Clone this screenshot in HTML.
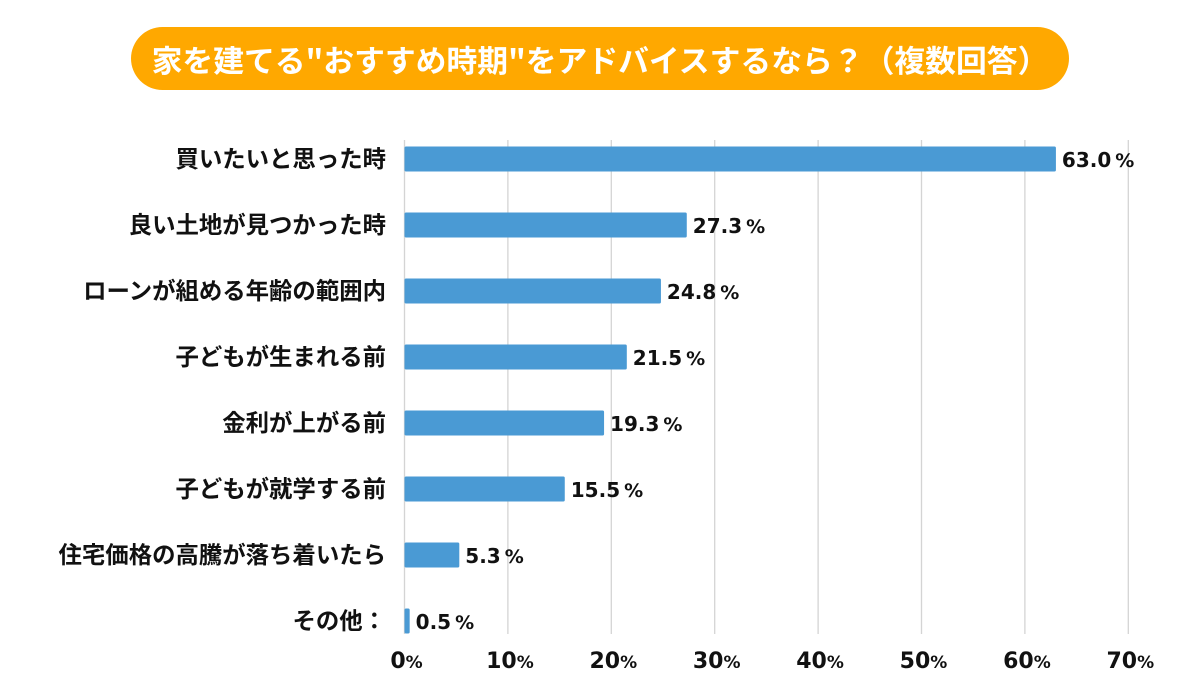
<!DOCTYPE html>
<html><head><meta charset="utf-8"><style>
body{margin:0;width:1200px;height:695px;background:#fff;overflow:hidden;font-family:"Liberation Sans","Noto Sans CJK JP",sans-serif;}
#title{position:absolute;left:131px;top:27px;width:938px;height:63px;border-radius:32px;background:#FFA800;color:#fff;font-weight:bold;font-size:30.8px;line-height:63px;text-align:center;font-family:"Noto Sans CJK JP",sans-serif;white-space:nowrap;}
svg{position:absolute;left:0;top:0}
</style></head><body>
<div id="title">家を建てる"おすすめ時期"をアドバイスするなら？（複数回答）</div>
<svg id="chart" width="1200" height="695"></svg>
<script>
const categories=["買いたいと思った時","良い土地が見つかった時","ローンが組める年齢の範囲内","子どもが生まれる前","金利が上がる前","子どもが就学する前","住宅価格の高騰が落ち着いたら","その他："];
const values=[63.0,27.3,24.8,21.5,19.3,15.5,5.3,0.5];
const valueLabels=["63.0","27.3","24.8","21.5","19.3","15.5","5.3","0.5"];
const ticks=[0,10,20,30,40,50,60,70];
const NS="http://www.w3.org/2000/svg";
const svg=document.getElementById('chart');
const x0=404.5,pxPer=103.4,top0=140,bottom=634,band=66;
const x=v=>x0+v*pxPer/10;
const yc=i=>159+i*band;
function mk(t,a){const e=document.createElementNS(NS,t);for(const k in a)e.setAttribute(k,a[k]);svg.appendChild(e);return e;}
ticks.forEach((t,i)=>{
 const g=mk('line',{x1:x(t),x2:x(t),y1:top0,y2:bottom,stroke:'#d4d4d4','stroke-width':1.3});
 
 
 const tx=mk('text',{x:x(t)+2,y:668,'text-anchor':'middle','font-size':22,'font-weight':'bold',fill:'#111','font-family':'"DejaVu Sans",sans-serif'});
 tx.innerHTML=t+'<tspan font-size="17">%</tspan>';
 
 
});
categories.forEach((c,i)=>{
 const cy=yc(i);
 const b=mk('rect',{x:x0,y:cy-12.5,width:Math.max(x(values[i])-x0,3),height:25,fill:'#4A9AD4',rx:1.5});
 
 
 const l=mk('text',{x:386,y:cy+8,'text-anchor':'end','font-size':23.4,'font-weight':'bold',fill:'#111','font-family':'"Noto Sans CJK JP",sans-serif'});
 l.textContent=c;
 
 
 const v=mk('text',{x:x(values[i])+6,y:cy+8,'font-size':20,'font-weight':'bold',fill:'#111','font-family':'"DejaVu Sans",sans-serif'});
 v.innerHTML=valueLabels[i]+'<tspan font-size="19" dx="4">%</tspan>';
 
 
});
</script>
</body></html>
